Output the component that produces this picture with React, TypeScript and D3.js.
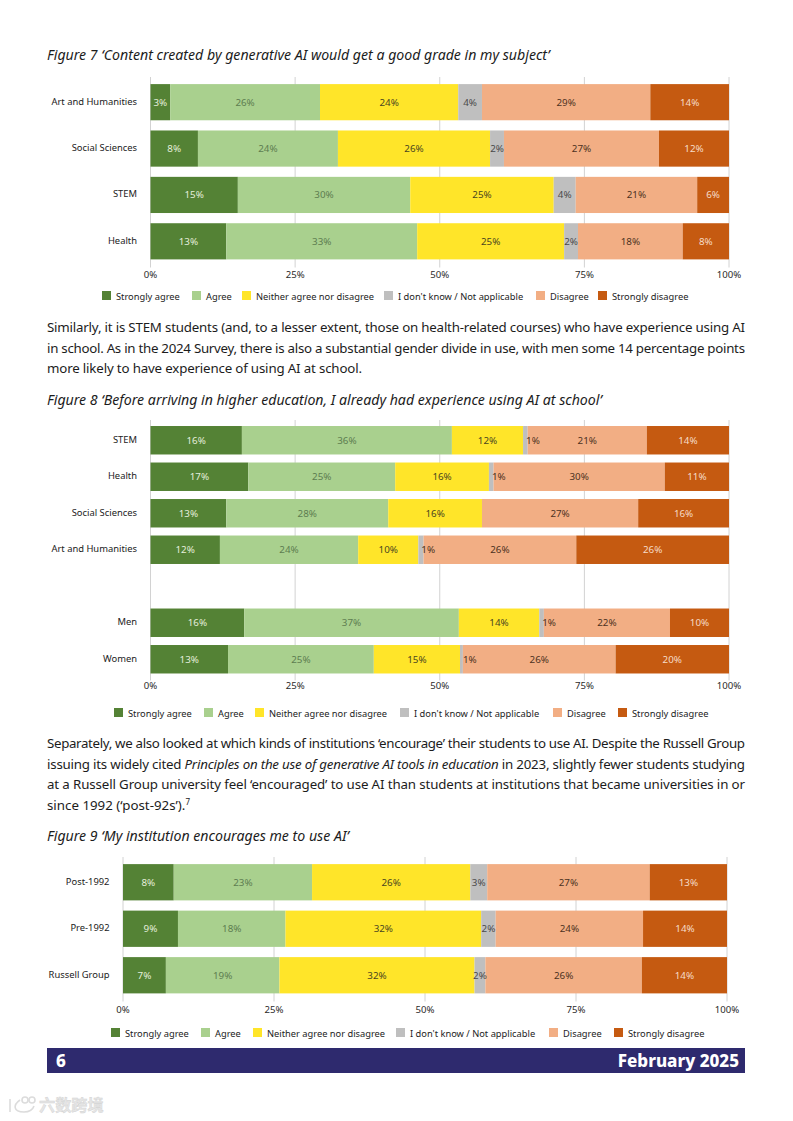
import React from 'react';
import * as d3 from 'd3';

const FONT = "'Noto Sans', 'Open Sans', sans-serif";

const responses = ['Strongly agree', 'Agree', 'Neither agree nor disagree', "I don't know / Not applicable", 'Disagree', 'Strongly disagree'];
const colors = ['#548235', '#a9d08e', '#ffe529', '#bfbfbf', '#f2ae84', '#c55a11'];
const labelColors = ['#e4eedb', '#5d7d50', '#4b4620', '#4a4a4a', '#4d3222', '#f6dcc8'];
const ticks = [0, 25, 50, 75, 100];

// figure 7
const fig7Categories = ['Art and Humanities', 'Social Sciences', 'STEM', 'Health'];
const fig7Values = [
  [3.4, 25.9, 23.9, 4.1, 29.1, 13.6],
  [8.2, 24.2, 26.3, 2.4, 26.8, 12.1],
  [15.1, 29.8, 24.8, 3.8, 21, 5.5],
  [13.1, 33, 25.4, 2.4, 18.1, 8],
];

// figure 8, the empty category is the gap between subject and gender
const fig8Categories = ['STEM', 'Health', 'Social Sciences', 'Art and Humanities', '', 'Men', 'Women'];
const fig8Values = [
  [15.8, 36.3, 12.3, 0.8, 20.6, 14.2],
  [16.9, 25.4, 16.2, 0.8, 29.6, 11.1],
  [13.1, 28, 16.2, 0, 27, 15.7],
  [12, 23.9, 10.4, 0.9, 26.4, 26.4],
  [0, 0, 0, 0, 0, 0],
  [16.2, 37.1, 13.9, 0.8, 21.8, 10.2],
  [13.4, 25.2, 14.9, 0.5, 26.4, 19.6],
];

// figure 9
const fig9Categories = ['Post-1992', 'Pre-1992', 'Russell Group'];
const fig9Values = [
  [8.4, 22.9, 26.2, 2.8, 26.9, 12.8],
  [9.1, 17.8, 32.4, 2.4, 24.4, 13.9],
  [7.1, 18.8, 32.3, 1.8, 25.9, 14.1],
];

type ChartProps = {
  categories: string[];
  values: number[][];
  left: number;
  right: number;
  top: number;
  bottom: number;
  tickY: number;
  legendY: number;
  legendX: number[];
};

const keys = responses.map((_, i) => i);

const StackedChart: React.FC<ChartProps> = ({ categories, values, left, right, top, bottom, tickY, legendY, legendX }) => {
  const x = d3.scaleLinear().domain([0, 100]).range([left, right]);
  const y = d3.scaleBand<number>().domain(d3.range(categories.length)).range([top, bottom]).paddingInner(0.22).paddingOuter(0.11);
  const series = d3.stack<number[], number>().keys(keys).value((d, k) => d[k])(values);

  return (
    <g fontFamily={FONT}>
      {ticks.map(t => (
        <g key={t}>
          <line x1={x(t)} x2={x(t)} y1={top - 2} y2={bottom + 3} stroke="#d2d2d2" strokeWidth={1} />
          <text x={x(t)} y={tickY} textAnchor="middle" fontSize={9.6} fill="#2b2b2b">{t}%</text>
        </g>
      ))}
      {categories.map((c, i) => (
        <text key={c + i} x={left - 13.5} y={y(i)! + y.bandwidth() / 2 + 2.5} textAnchor="end" fontSize={9.4} fill="#222">{c}</text>
      ))}
      {series.map((s, k) => (
        <g key={k}>
          {s.map((d, i) => d[1] - d[0] > 0 && (
            <rect key={i} x={x(d[0])} y={y(i)} width={x(d[1]) - x(d[0])} height={y.bandwidth()} fill={colors[k]} />
          ))}
        </g>
      ))}
      {/* labels go on top, the 1% ones run over into the next segment */}
      {series.map((s, k) => (
        <g key={k}>
          {s.map((d, i) => {
            const v = d[1] - d[0];
            if (v <= 0) return null;
            const small = v < 1.5;
            return (
              <text
                key={i}
                x={small ? x(d[0]) + 3 : (x(d[0]) + x(d[1])) / 2}
                y={y(i)! + y.bandwidth() / 2 + 3.5}
                textAnchor={small ? 'start' : 'middle'}
                fontSize={9.8}
                fill={small ? labelColors[4] : labelColors[k]}
              >
                {Math.round(v)}%
              </text>
            );
          })}
        </g>
      ))}
      {responses.map((r, k) => (
        <g key={r}>
          <rect x={legendX[k] - 14} y={legendY - 8.5} width={9} height={9} fill={colors[k]} />
          <text x={legendX[k]} y={legendY} fontSize={9.3} fill="#222">{r}</text>
        </g>
      ))}
    </g>
  );
};

const Para: React.FC<{ y: number; width: number; children: React.ReactNode }> = ({ y, width, children }) => (
  <text x={47} y={y} fontFamily={FONT} fontSize={13.3} fill="#1c1c1c" textLength={width} lengthAdjust="spacing">
    {children}
  </text>
);

const Title: React.FC<{ y: number; children: React.ReactNode }> = ({ y, children }) => (
  <text x={47} y={y} fontFamily={FONT} fontSize={14.15} fontStyle="italic" fill="#1c1c1c">{children}</text>
);

export default function App() {
  return (
    <svg width={793} height={1121} viewBox="0 0 793 1121" style={{ position: 'absolute', left: 0, top: 0, display: 'block', background: '#fff' }}>
      <Title y={60}>Figure 7 ‘Content created by generative AI would get a good grade in my subject’</Title>
      <StackedChart categories={fig7Categories} values={fig7Values} left={150.5} right={729} top={79} bottom={264.5} tickY={277.5} legendY={299.5} legendX={[116, 206, 256, 398, 550, 612]} />

      <Para y={332} width={698}>Similarly, it is STEM students (and, to a lesser extent, those on health-related courses) who have experience using AI</Para>
      <Para y={353} width={698}>in school. As in the 2024 Survey, there is also a substantial gender divide in use, with men some 14 percentage points</Para>
      <Para y={373} width={315}>more likely to have experience of using AI at school.</Para>

      <Title y={405}>Figure 8 ‘Before arriving in higher education, I already had experience using AI at school’</Title>
      <StackedChart categories={fig8Categories} values={fig8Values} left={150.5} right={729} top={422} bottom={677.5} tickY={689} legendY={716.5} legendX={[128, 218, 269, 414, 567, 632]} />

      <Para y={748} width={698}>Separately, we also looked at which kinds of institutions ‘encourage’ their students to use AI. Despite the Russell Group</Para>
      <Para y={769} width={698}>issuing its widely cited <tspan fontStyle="italic">Principles on the use of generative AI tools in education</tspan> in 2023, slightly fewer students studying</Para>
      <Para y={789} width={698}>at a Russell Group university feel ‘encouraged’ to use AI than students at institutions that became universities in or</Para>
      <Para y={810} width={143}>since 1992 (‘post-92s’).<tspan fontSize={8} dy={-5}>7</tspan></Para>

      <Title y={841}>Figure 9 ‘My institution encourages me to use AI’</Title>
      <StackedChart categories={fig9Categories} values={fig9Values} left={123} right={727} top={859} bottom={998.5} tickY={1013} legendY={1036.5} legendX={[125, 215, 267, 410, 563, 628]} />

      <rect x={47} y={1048} width={698} height={25} fill="#2e2a6e" />
      <text x={56} y={1067} fontFamily={FONT} fontSize={17} fontWeight={800} fill="#fff">6</text>
      <text x={739} y={1067} textAnchor="end" fontFamily={FONT} fontSize={17} fontWeight={800} fill="#fff">February 2025</text>

      {/* watermark */}
      <g fill="none" stroke="#dcdcdc" strokeWidth={1.6}>
        <path d="M10 1099 V1112 M20 1100 C13 1105 13 1112 24 1112 C30 1112 33 1109 34 1106" />
        <circle cx={25} cy={1100} r={3} />
        <circle cx={32} cy={1100} r={3} />
      </g>
      <text x={39} y={1111} fontFamily="'Noto Sans CJK SC', sans-serif" fontSize={16.2} fontWeight={700} fill="#e6e6e6" stroke="#d2d2d2" strokeWidth={0.4}>六数跨境</text>
    </svg>
  );
}
